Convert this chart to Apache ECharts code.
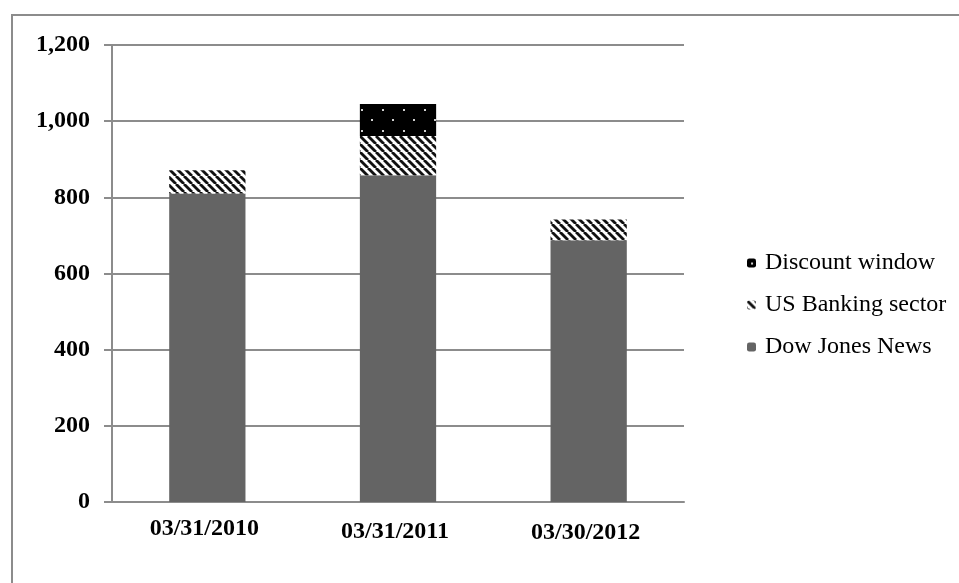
<!DOCTYPE html>
<html>
<head>
<meta charset="utf-8">
<script src="https://cdn.jsdelivr.net/npm/echarts@6/dist/echarts.min.js"></script>
<style>
  html, body { margin: 0; padding: 0; background: #fff; }
  #chart { width: 959px; height: 583px; }
</style>
</head>
<body>
<div id="chart"></div>
<script>
// data
const categories = ["03/31/2010", "03/31/2011", "03/30/2012"];
const dowJones = [810, 858, 687];
const usBanking = [61, 103, 55];
const discountWindow = [0, 84, 0];
const yTicks = [0, 200, 400, 600, 800, 1000, 1200];

// fill patterns (like the Excel ones)
function hatchPattern() {
  const c = document.createElement("canvas");
  c.width = 8;
  c.height = 8;
  const ctx = c.getContext("2d");
  ctx.fillStyle = "#fff";
  ctx.fillRect(0, 0, 8, 8);
  ctx.strokeStyle = "#111";
  ctx.lineWidth = 2.8;
  [-8, 0, 8].forEach((o) => {
    ctx.beginPath();
    ctx.moveTo(o, 0);
    ctx.lineTo(o + 8, 8);
    ctx.stroke();
  });
  return c;
}
function dotPattern() {
  const c = document.createElement("canvas");
  c.width = 21;
  c.height = 21;
  const ctx = c.getContext("2d");
  ctx.fillStyle = "#000";
  ctx.fillRect(0, 0, 21, 21);
  ctx.fillStyle = "#d0d0d0";
  ctx.fillRect(4, 4, 2, 2);
  ctx.fillRect(14, 14, 2, 2);
  return c;
}

const font = "'Liberation Serif', 'Times New Roman', serif";
const labelDrop = [0, 3, 4]; // small stagger of the date labels

const myChart = echarts.init(document.getElementById("chart"));
const option = {
  animation: false,
  backgroundColor: "#fff",
  graphic: [
    {
      type: "rect",
      shape: { x: 12, y: 15, width: 1000, height: 1000 },
      style: { fill: "none", stroke: "#8c8c8c", lineWidth: 2 },
      silent: true,
    },
  ],
  grid: {
    left: 112,
    right: 275,
    top: 45,
    bottom: 81,
  },
  legend: {
    orient: "vertical",
    left: 742,
    top: 246,
    itemWidth: 9,
    itemHeight: 9,
    itemGap: 18,
    data: ["Discount window", "US Banking sector", "Dow Jones News"],
    textStyle: { fontFamily: font, fontSize: 24, color: "#000", padding: [0, 0, 0, 4] },
  },
  xAxis: {
    type: "category",
    data: categories.map((c, i) => ({
      value: c,
      textStyle: { padding: [labelDrop[i], 6, 0, 0] },
    })),
    axisLine: { lineStyle: { color: "#8c8c8c", width: 2 } },
    axisTick: { show: false },
    axisLabel: {
      margin: 15,
      fontFamily: font,
      fontWeight: "bold",
      fontSize: 24,
      color: "#000",
    },
  },
  yAxis: {
    type: "value",
    min: yTicks[0],
    max: yTicks[yTicks.length - 1],
    interval: yTicks[1] - yTicks[0],
    axisLine: { show: true, lineStyle: { color: "#8c8c8c", width: 2 } },
    axisTick: { show: true, length: 8, lineStyle: { color: "#8c8c8c", width: 2 } },
    splitLine: { lineStyle: { color: "#8c8c8c", width: 2 } },
    axisLabel: {
      margin: 22,
      fontFamily: font,
      fontWeight: "bold",
      fontSize: 24,
      color: "#000",
      formatter: (v) => v.toLocaleString("en-US"),
    },
  },
  series: [
    {
      name: "Dow Jones News",
      type: "bar",
      stack: "total",
      barWidth: "40%",
      itemStyle: { color: "#646464" },
      data: dowJones,
    },
    {
      name: "US Banking sector",
      type: "bar",
      stack: "total",
      itemStyle: { color: { image: hatchPattern(), repeat: "repeat" } },
      data: usBanking,
    },
    {
      name: "Discount window",
      type: "bar",
      stack: "total",
      itemStyle: { color: { image: dotPattern(), repeat: "repeat" } },
      data: discountWindow,
    },
  ],
};
option && myChart.setOption(option);
</script>
</body>
</html>
